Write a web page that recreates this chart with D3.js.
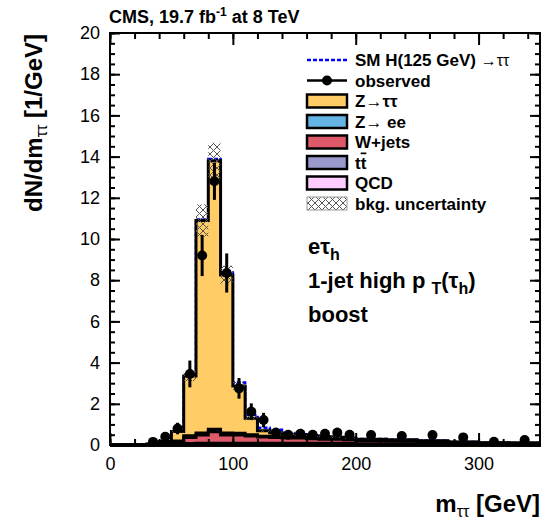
<!DOCTYPE html>
<html><head><meta charset="utf-8">
<script src="https://cdn.jsdelivr.net/npm/d3@7"></script>
<style>body{margin:0;background:#fff} text{font-family:"Liberation Sans",Arial,Helvetica,sans-serif}</style>
</head><body><svg id="c" width="541" height="520"></svg>
<script>
// ---- data ----
const binEdges = [0,10,20,30,40,50,60,70,80,90,100,110,120,130,140,150,160,170,180,190,200,225,250,275,300,325,350];
const qcd   = [0,0,0,0.01,0.02,0.03,0.05,0.05,0.05,0.04,0.04,0.04,0.04,0.04,0.04,0.04,0.03,0.03,0.03,0.03,0.02,0.02,0.02,0.01,0.01,0.01];
const ttbar = [0,0,0,0,0.01,0.01,0.02,0.03,0.04,0.04,0.05,0.05,0.05,0.05,0.05,0.05,0.05,0.05,0.05,0.05,0.04,0.04,0.03,0.03,0.02,0.02];
const wjets = [0,0,0,0.02,0.05,0.12,0.30,0.40,0.55,0.40,0.40,0.35,0.30,0.28,0.25,0.25,0.22,0.20,0.20,0.18,0.16,0.14,0.12,0.08,0.05,0.05];
const zee   = [0,0,0,0,0.01,0.03,0.08,0.10,0.12,0.10,0.08,0.06,0.04,0.03,0.03,0.02,0.02,0.02,0.02,0.02,0.01,0.01,0.01,0.01,0.01,0.01];
const ztt   = [0,0,0,0.02,0.08,0.46,2.90,10.32,13.04,7.67,2.29,0.80,0.26,0.20,0.15,0.12,0.10,0.10,0.08,0.06,0.05,0.04,0.03,0.02,0.02,0.01];
const signal= [0,0,0,0,0,0.01,0.03,0.05,0.08,0.12,0.18,0.17,0.15,0.14,0.06,0.04,0.03,0.02,0.02,0.01,0.01,0.01,0,0,0,0];
const bkgUnc= [0,0,0,0.01,0.02,0.05,0.25,0.78,0.87,0.45,0.20,0.10,0.06,0.05,0.04,0.04,0.04,0.04,0.04,0.04,0.03,0.03,0.03,0.02,0.02,0.02];
const observed = [0,0,0,0.15,0.40,0.80,3.45,9.20,12.80,8.35,2.75,1.62,1.21,0.60,0.50,0.55,0.50,0.55,0.60,0.50,0.48,0.44,0.48,0.37,0.16,0.24];
const obsErr   = [0,0,0,0.12,0.20,0.28,0.65,1.00,0.90,0.95,0.50,0.40,0.35,0.24,0.22,0.23,0.22,0.23,0.24,0.22,0.14,0.13,0.14,0.12,0.08,0.10];
const xTicks = [0,100,200,300];
const yTicks = [0,2,4,6,8,10,12,14,16,18,20];

const legendItems = [
  {label:"Z\u2192\u03C4\u03C4", color:"#FFCC66"},
  {label:"Z\u2192 ee", color:"#64B4E6"},
  {label:"W+jets", color:"#DE5A6A"},
  {label:"tt", color:"#9999CC", tt:true},
  {label:"QCD", color:"#FFCCFF"}
];

// ---- layout ----
const svg = d3.select("#c");
const L = 110, R = 540, T = 33, B = 445;
const x = d3.scaleLinear().domain([0,350]).range([L,R]);
const y = d3.scaleLinear().domain([0,20]).range([B,T]);

const defs = svg.append("defs");
const pat = defs.append("pattern").attr("id","hatch").attr("patternUnits","userSpaceOnUse").attr("width",7).attr("height",7);
pat.append("path").attr("d","M0,0 L7,7 M7,0 L0,7 M-1,6 L1,8 M6,-1 L8,1").attr("stroke","#555").attr("stroke-width",1).attr("fill","none");

const nb = binEdges.length - 1;
function stepPoints(vals){
  const pts = [[x(binEdges[0]), y(0)]];
  for (let i=0;i<nb;i++){ pts.push([x(binEdges[i]), y(vals[i])]); pts.push([x(binEdges[i+1]), y(vals[i])]); }
  pts.push([x(binEdges[nb]), y(0)]);
  return pts;
}
const line = d3.line();

// cumulative stack
const layers = [qcd, ttbar, wjets, zee, ztt];
const colors = ["#FFCCFF","#9999CC","#DE5A6A","#64B4E6","#FFCC66"];
const cum = [];
let acc = new Array(nb).fill(0);
layers.forEach(l => { acc = acc.map((v,i)=>v + l[i]); cum.push(acc.slice()); });
const total = cum[cum.length-1];

// signal on top (drawn first, so stack outline covers where zero)
const sigTot = total.map((v,i)=>v + signal[i]);
svg.append("path").attr("d", line(stepPoints(sigTot))).attr("fill","none")
  .attr("stroke","#0000FF").attr("stroke-width",2.5).attr("stroke-dasharray","4,2");

for (let k = cum.length-1; k>=0; k--){
  svg.append("path").attr("d", line(stepPoints(cum[k])) + "Z")
    .attr("fill", colors[k]).attr("stroke","#000").attr("stroke-width",3).attr("stroke-linejoin","miter");
}

// uncertainty hatch
svg.append("g").selectAll("rect").data(d3.range(nb).filter(i=>bkgUnc[i]>0.03)).join("rect")
  .attr("x", i=>x(binEdges[i])).attr("width", i=>x(binEdges[i+1])-x(binEdges[i]))
  .attr("y", i=>y(total[i]+bkgUnc[i])).attr("height", i=>y(total[i]-bkgUnc[i])-y(total[i]+bkgUnc[i]))
  .attr("fill","url(#hatch)");

// observed
const obsIdx = d3.range(nb).filter(i=>observed[i]>0);
const og = svg.append("g");
og.selectAll("line").data(obsIdx).join("line")
  .attr("x1", i=>x((binEdges[i]+binEdges[i+1])/2)).attr("x2", i=>x((binEdges[i]+binEdges[i+1])/2))
  .attr("y1", i=>y(observed[i]+obsErr[i])).attr("y2", i=>y(Math.max(0,observed[i]-obsErr[i])))
  .attr("stroke","#000").attr("stroke-width",3);
og.selectAll("circle").data(obsIdx).join("circle")
  .attr("cx", i=>x((binEdges[i]+binEdges[i+1])/2)).attr("cy", i=>y(observed[i])).attr("r",5).attr("fill","#000");

// axes (ticks inside)
const tickStyle = g => { g.select(".domain").remove(); g.selectAll(".tick line").attr("stroke","#000").attr("stroke-width",2);
  g.selectAll("text").style("font-size","18px").attr("fill","#000"); };
const xMinor = d3.range(0,351,20);
const yMinor = d3.range(0,20.01,0.5);
svg.append("g").attr("transform",`translate(0,${B})`).call(d3.axisBottom(x).tickValues(xMinor).tickSize(-6).tickFormat("")).call(tickStyle);
svg.append("g").attr("transform",`translate(0,${B})`).call(d3.axisBottom(x).tickValues(xTicks).tickSize(-12).tickPadding(12).tickFormat(d3.format("d"))).call(tickStyle);
svg.append("g").attr("transform",`translate(0,${T})`).call(d3.axisTop(x).tickValues(xMinor).tickSize(-6).tickFormat("")).call(tickStyle);
svg.append("g").attr("transform",`translate(0,${T})`).call(d3.axisTop(x).tickValues(xTicks).tickSize(-12).tickFormat("")).call(tickStyle);
svg.append("g").attr("transform",`translate(${L},0)`).call(d3.axisLeft(y).tickValues(yMinor).tickSize(-5).tickFormat("")).call(tickStyle);
svg.append("g").attr("transform",`translate(${L},0)`).call(d3.axisLeft(y).tickValues(yTicks).tickSize(-10).tickPadding(10).tickFormat(d3.format("d"))).call(tickStyle);
svg.append("g").attr("transform",`translate(${R},0)`).call(d3.axisRight(y).tickValues(yMinor).tickSize(-5).tickFormat("")).call(tickStyle);
svg.append("g").attr("transform",`translate(${R},0)`).call(d3.axisRight(y).tickValues(yTicks).tickSize(-10).tickFormat("")).call(tickStyle);

// frame
svg.append("rect").attr("x",L).attr("y",T).attr("width",R-L).attr("height",B-T).attr("fill","none").attr("stroke","#000").attr("stroke-width",2);

// titles
const title = svg.append("text").attr("x",109).attr("y",23).attr("font-weight","bold").style("font-size","18px");
title.append("tspan").text("CMS, 19.7 fb");
title.append("tspan").attr("dy",-7).style("font-size","12px").text("-1");
title.append("tspan").attr("dy",7).text(" at 8 TeV");

const yt = svg.append("text").attr("transform","translate(42,34) rotate(-90)").attr("text-anchor","end").attr("font-weight","bold").style("font-size","24px");
yt.append("tspan").text("dN/dm");
yt.append("tspan").attr("dy",5).style("font-size","16px").attr("font-weight","normal").text("\u03C4\u03C4");
yt.append("tspan").attr("dy",-5).text("  [1/GeV]");

const xt = svg.append("text").attr("x",540).attr("y",512).attr("text-anchor","end").attr("font-weight","bold").style("font-size","24px");
xt.append("tspan").text("m");
xt.append("tspan").attr("dy",5).style("font-size","16px").attr("font-weight","normal").text("\u03C4\u03C4");
xt.append("tspan").attr("dy",-5).text(" [GeV]");

// legend
const lx = 307, lw = 40, ltx = 355, rowY = [60,80.5,101,121.5,142,162.5,183,203.5];
const fs = "17px";
const lg = svg.append("g");
lg.append("line").attr("x1",lx).attr("x2",lx+lw).attr("y1",rowY[0]).attr("y2",rowY[0]).attr("stroke","#0000FF").attr("stroke-width",2.5).attr("stroke-dasharray","4,2");
const t0 = lg.append("text").attr("x",ltx).attr("y",rowY[0]+6).attr("font-weight","bold").style("font-size",fs);
t0.append("tspan").text("SM H(125 GeV) ");
t0.append("tspan").attr("font-weight","normal").style("font-size","16px").text("\u2192\u03C4\u03C4");
lg.append("line").attr("x1",lx).attr("x2",lx+lw).attr("y1",rowY[1]).attr("y2",rowY[1]).attr("stroke","#000").attr("stroke-width",2.5);
lg.append("circle").attr("cx",lx+lw/2).attr("cy",rowY[1]).attr("r",5).attr("fill","#000");
lg.append("text").attr("x",ltx).attr("y",rowY[1]+6).attr("font-weight","bold").style("font-size",fs).text("observed");
legendItems.forEach((d,i)=>{
  const yy = rowY[i+2];
  lg.append("rect").attr("x",lx).attr("y",yy-6.5).attr("width",lw).attr("height",13).attr("fill",d.color).attr("stroke","#000").attr("stroke-width",2.5);
  const t = lg.append("text").attr("x",ltx).attr("y",yy+6).attr("font-weight","bold").style("font-size",fs);
  if (d.tt){ t.append("tspan").text("t"); t.append("tspan").text("t").style("text-decoration","overline"); }
  else t.text(d.label);
});
lg.append("rect").attr("x",lx).attr("y",rowY[7]-6.5).attr("width",lw).attr("height",13).attr("fill","url(#hatch)").attr("stroke","#999").attr("stroke-width",1);
lg.append("text").attr("x",ltx).attr("y",rowY[7]+6).attr("font-weight","bold").style("font-size",fs).text("bkg. uncertainty");

// annotations
const afs = "22px";
const a1 = svg.append("text").attr("x",308).attr("y",254).attr("font-weight","bold").style("font-size",afs);
a1.append("tspan").text("e\u03C4");
a1.append("tspan").attr("dy",6).style("font-size","16px").text("h");
const a2 = svg.append("text").attr("x",308).attr("y",288).attr("font-weight","bold").style("font-size",afs);
a2.append("tspan").text("1-jet high p ");
a2.append("tspan").attr("dy",6).style("font-size","16px").text("T");
a2.append("tspan").attr("dy",-6).text("(\u03C4");
a2.append("tspan").attr("dy",6).style("font-size","16px").text("h");
a2.append("tspan").attr("dy",-6).text(")");
svg.append("text").attr("x",308).attr("y",322).attr("font-weight","bold").style("font-size",afs).text("boost");
</script></body></html>
